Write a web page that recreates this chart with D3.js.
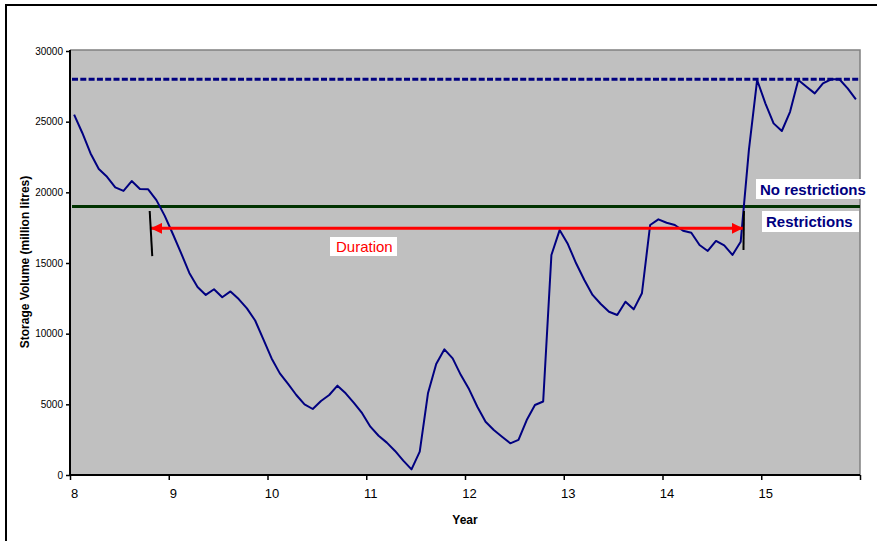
<!DOCTYPE html>
<html>
<head>
<meta charset="utf-8">
<script src="https://cdn.jsdelivr.net/npm/d3@7"></script>
<style>
  html, body { margin: 0; padding: 0; background: #fff; }
  svg { display: block; font-family: "Liberation Sans", Arial, sans-serif; }
</style>
</head>
<body>
<svg id="chart" width="877" height="541"></svg>
<script>
// ---- Data ----
// Monthly storage volume (million litres), starting year 8, month 1
const storage = [
  25500, 24200, 22750, 21650, 21100, 20350, 20100, 20800, 20230, 20210, 19450, 18350,
  17050, 15700, 14300, 13300, 12740, 13140, 12580, 12990, 12450, 11790, 10930, 9600,
  8250, 7190, 6440, 5660, 5000, 4670, 5240, 5660, 6320, 5780, 5100, 4370,
  3420, 2780, 2290, 1700, 1020, 400, 1650, 5780, 7850, 8890, 8250, 7070,
  6060, 4830, 3770, 3180, 2710, 2240, 2480, 3890, 4950, 5200, 15570, 17330,
  16340, 14980, 13800, 12740, 12100, 11550, 11320, 12260, 11720, 12860, 17690, 18090,
  17850, 17690, 17280, 17140, 16270, 15850, 16560, 16250, 15570, 16500, 23000, 27950,
  26300, 24880, 24340, 25700, 27950, 27470, 27000, 27710, 28000, 28000, 27360, 26580
];
const startYear = 8;
const yearTicks = [8, 9, 10, 11, 12, 13, 14, 15, 16];
const yTicks = [0, 5000, 10000, 15000, 20000, 25000, 30000];
const fullLevel = 28000;         // dotted capacity line
const restrictionLevel = 19000;  // restrictions trigger line
const durationLevel = 17450;
const durationStart = 8.82;
const durationEnd = 14.815;
const markerLeft = { x0: 8.807, x1: 8.833, v0: 18680, v1: 15490 };
const markerRight = { x0: 14.825, x1: 14.82, v0: 18680, v1: 15920 };
const labels = { duration: "Duration", noRestr: "No restrictions", restr: "Restrictions",
                 xTitle: "Year", yTitle: "Storage Volume (million litres)" };

// ---- Layout ----
const svg = d3.select("#chart");
const L = 70, R = 860, T = 50, B = 475;
const x = d3.scaleLinear().domain([8, 16]).range([L, R]);
const y = d3.scaleLinear().domain([0, 30000]).range([B, T + 1]);

// outer frame
svg.append("rect").attr("x", 6).attr("y", 5).attr("width", 1000).attr("height", 1000)
  .attr("fill", "#fff").attr("stroke", "#000").attr("stroke-width", 2);

// plot area
svg.append("rect").attr("x", L).attr("y", T).attr("width", R - L).attr("height", B - T)
  .attr("fill", "#c0c0c0");
svg.append("path").attr("d", `M${L},${T}H${R}V${B}`).attr("fill", "none")
  .attr("stroke", "#808080").attr("stroke-width", 1.5);

// capacity dotted line
svg.append("line").attr("x1", x(8) + 2).attr("x2", R).attr("y1", y(fullLevel)).attr("y2", y(fullLevel))
  .attr("stroke", "#000080").attr("stroke-width", 3).attr("stroke-dasharray", "6,2.3");

// restriction line
svg.append("line").attr("x1", x(8) + 2).attr("x2", R).attr("y1", y(restrictionLevel)).attr("y2", y(restrictionLevel))
  .attr("stroke", "#003300").attr("stroke-width", 3);

// series line
const line = d3.line()
  .x((d, i) => x(startYear + (i + 0.5) / 12))
  .y(d => y(d));
svg.append("path").datum(storage).attr("d", line).attr("fill", "none")
  .attr("stroke", "#000080").attr("stroke-width", 2).attr("stroke-linejoin", "round");

// duration arrow
const defs = svg.append("defs");
defs.append("marker").attr("id", "arrowEnd").attr("markerUnits", "userSpaceOnUse")
  .attr("viewBox", "0 0 10 10").attr("refX", 10).attr("refY", 5)
  .attr("markerWidth", 11).attr("markerHeight", 11).attr("orient", "auto-start-reverse")
  .append("path").attr("d", "M0,0L10,5L0,10Z").attr("fill", "#ff0000");
svg.append("line").attr("x1", x(durationStart)).attr("x2", x(durationEnd))
  .attr("y1", y(durationLevel)).attr("y2", y(durationLevel))
  .attr("stroke", "#ff0000").attr("stroke-width", 3)
  .attr("marker-start", "url(#arrowEnd)").attr("marker-end", "url(#arrowEnd)");

// black marker lines
[markerLeft, markerRight].forEach(m => {
  svg.append("line").attr("x1", x(m.x0)).attr("x2", x(m.x1)).attr("y1", y(m.v0)).attr("y2", y(m.v1))
    .attr("stroke", "#000").attr("stroke-width", 2);
});

// label boxes
function labelBox(bx, by, bw, bh, text, tx, ty, color, weight) {
  svg.append("rect").attr("x", bx).attr("y", by).attr("width", bw).attr("height", bh).attr("fill", "#fff");
  svg.append("text").attr("x", tx).attr("y", ty).attr("fill", color)
    .attr("font-size", "15px").attr("font-weight", weight).text(text);
}
labelBox(330, 237, 67, 19, labels.duration, 336, 252, "#ff0000", "normal");
labelBox(756, 179, 121, 20, labels.noRestr, 760, 195, "#000080", "bold");
labelBox(762, 211, 97, 21, labels.restr, 766, 227, "#000080", "bold");

// axes
const yAxis = svg.append("g").attr("transform", `translate(${L},0)`)
  .call(d3.axisLeft(y).tickValues(yTicks).tickSize(4).tickPadding(3).tickFormat(d3.format("d")));
yAxis.select(".domain").attr("stroke", "#000").attr("stroke-width", 2).attr("d", `M0,${T}V${B}`);
yAxis.selectAll(".tick line").attr("stroke", "#000").attr("stroke-width", 1.5);
yAxis.selectAll(".tick text").attr("font-size", "10px").attr("fill", "#000")
  .attr("font-family", "Liberation Sans, Arial, sans-serif");

const xAxis = svg.append("g").attr("transform", `translate(0,${B})`)
  .call(d3.axisBottom(x).tickValues(yearTicks).tickSize(5).tickPadding(9)
    .tickFormat(d => d === 16 ? "" : d));
xAxis.select(".domain").attr("stroke", "#000").attr("stroke-width", 2).attr("d", `M${L},0H${R}`);
xAxis.selectAll(".tick line").attr("stroke", "#000").attr("stroke-width", 1.5);
xAxis.selectAll(".tick text").attr("font-size", "13px").attr("fill", "#000").attr("x", 4)
  .attr("font-family", "Liberation Sans, Arial, sans-serif");

// axis titles
svg.append("text").attr("x", 465).attr("y", 524).attr("text-anchor", "middle")
  .attr("font-size", "12px").attr("font-weight", "bold").text(labels.xTitle);
svg.append("text").attr("transform", "translate(29,262) rotate(-90)").attr("text-anchor", "middle")
  .attr("font-size", "12px").attr("font-weight", "bold").text(labels.yTitle);
</script>
</body>
</html>
